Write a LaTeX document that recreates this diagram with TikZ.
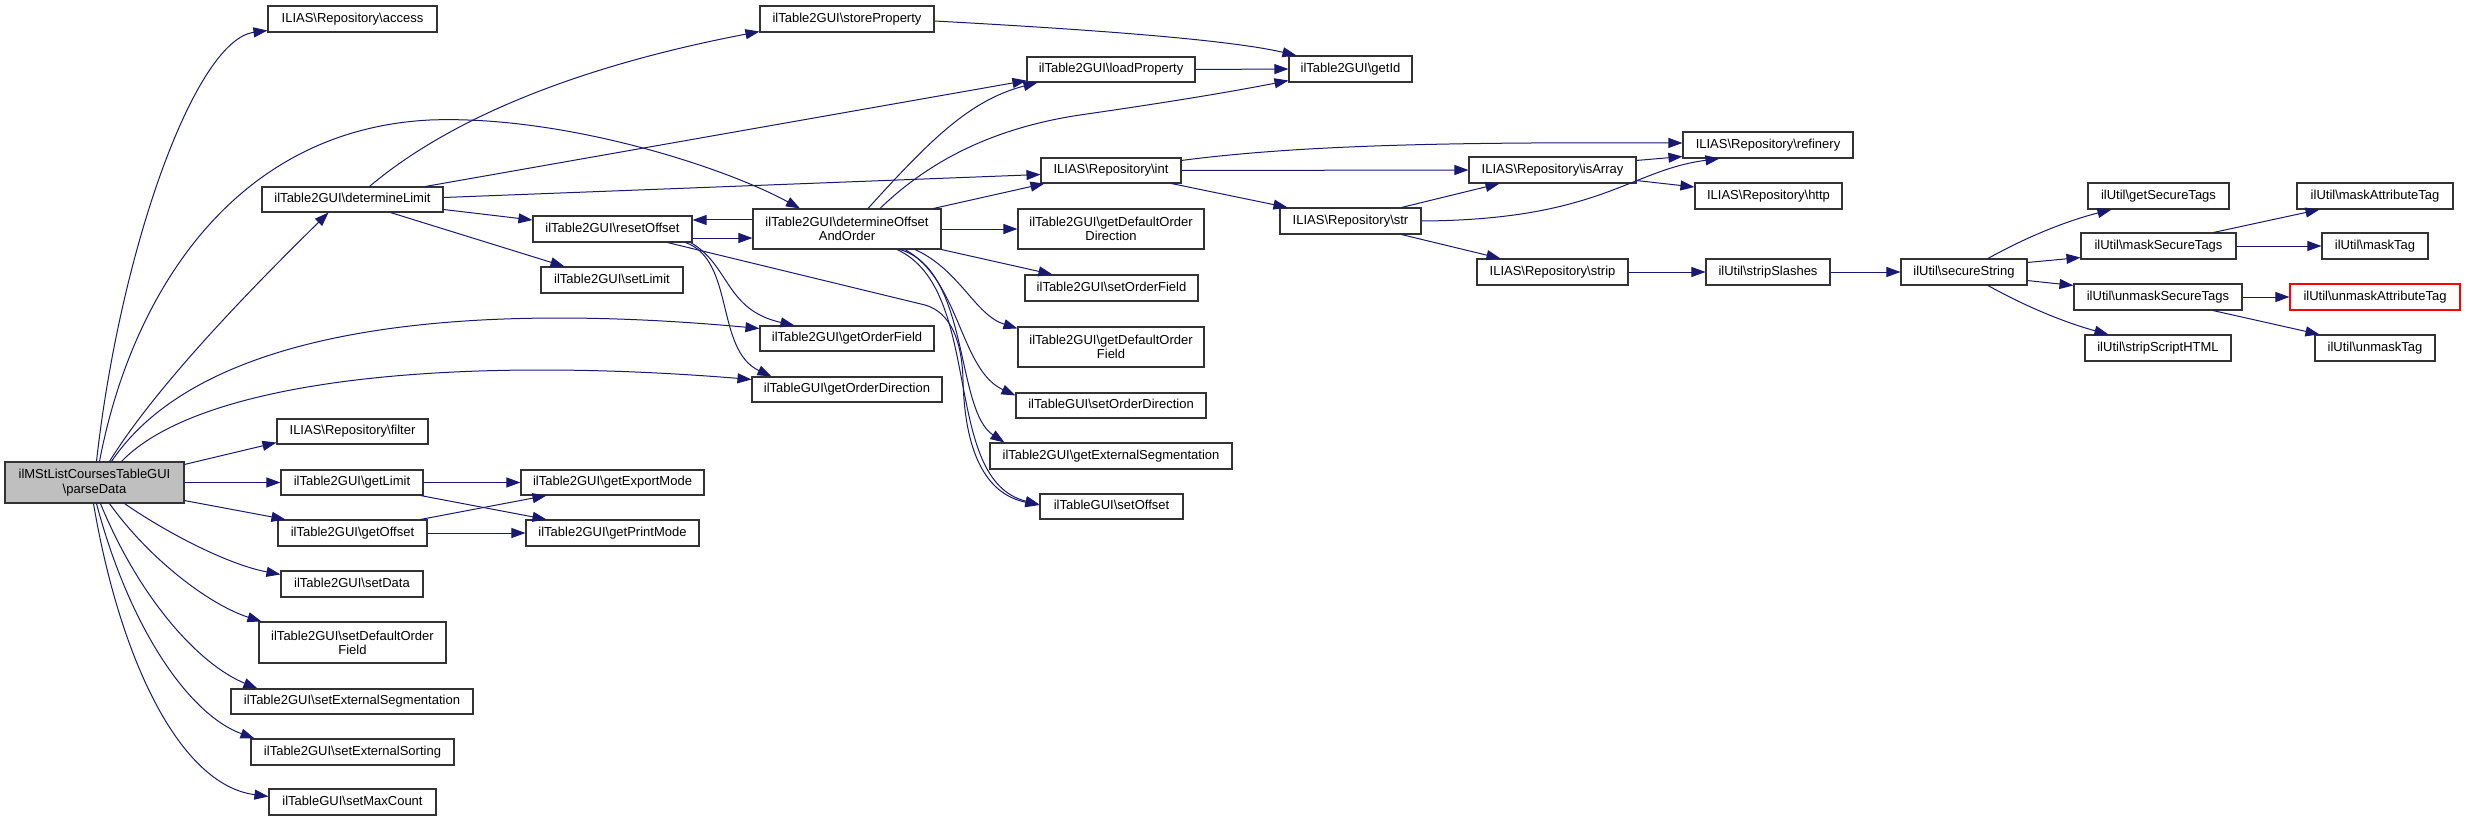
\documentclass[tikz,border=0pt]{standalone}
\usepackage{fontspec}
\setmainfont{Liberation Sans}
\usetikzlibrary{arrows.meta}
\definecolor{edgec}{HTML}{191970}
\definecolor{boxc}{HTML}{333333}
\definecolor{fillc}{HTML}{BFBFBF}
\definecolor{redc}{HTML}{FF0000}
\newcommand\gnode[7][]{\node[gbox,#1,minimum width={(#5-#3)*1pt},minimum height={(#6-#4)*1pt}] (#2) at ({(#3+#5)/2},{(#4+#6)/2}) {#7};}
\newcommand\bs{\textbackslash}
\begin{document}
\begin{tikzpicture}[x=1pt,y=-1pt,
 gbox/.style={draw=boxc,line width=1.1pt,inner sep=0pt,font=\fontsize{13}{14.3}\selectfont,fill=white},
 one/.style={text height=9.4pt,text depth=2.8pt},
 two/.style={align=center},
 gedge/.style={draw=edgec,line width=1pt,-{Triangle[length=14pt,width=10pt]}}]
\useasboundingbox[fill=white] (0,0) rectangle (2465,821);
% nodes
\gnode[fill=fillc,two]{parseData}{5}{462}{184}{503}{ilMStListCoursesTableGUI\\\bs parseData}
\gnode[one]{access}{268}{6}{437}{32}{ILIAS\bs Repository\bs access}
\gnode[one]{detLimit}{262}{187}{443}{212}{ilTable2GUI\bs determineLimit}
\gnode[one]{filter}{277}{419}{428}{444}{ILIAS\bs Repository\bs filter}
\gnode[one]{getLimit}{281}{470}{423}{495}{ilTable2GUI\bs getLimit}
\gnode[one]{getOffset}{278}{520}{427}{546}{ilTable2GUI\bs getOffset}
\gnode[one]{setData}{281}{571}{423}{597}{ilTable2GUI\bs setData}
\gnode[two]{setDOF}{259}{622}{446}{663}{ilTable2GUI\bs setDefaultOrder\\Field}
\gnode[one]{setExtSeg}{231}{689}{473}{714}{ilTable2GUI\bs setExternalSegmentation}
\gnode[one]{setExtSort}{251}{739}{454}{765}{ilTable2GUI\bs setExternalSorting}
\gnode[one]{setMaxCount}{269}{789}{436}{815}{ilTableGUI\bs setMaxCount}
\gnode[one]{resetOffset}{533}{216}{692}{242}{ilTable2GUI\bs resetOffset}
\gnode[one]{setLimit}{541}{267}{683}{293}{ilTable2GUI\bs setLimit}
\gnode[one]{getExportMode}{521}{470}{704}{495}{ilTable2GUI\bs getExportMode}
\gnode[one]{getPrintMode}{526}{520}{699}{546}{ilTable2GUI\bs getPrintMode}
\gnode[one]{storeProperty}{760}{6}{934}{32}{ilTable2GUI\bs storeProperty}
\gnode[two]{dOAO}{753}{209}{941}{249}{ilTable2GUI\bs determineOffset\\AndOrder}
\gnode[one]{getOrderField}{760}{326}{934}{351}{ilTable2GUI\bs getOrderField}
\gnode[one]{getOrderDir}{752}{377}{942}{402}{ilTableGUI\bs getOrderDirection}
\gnode[one]{loadProperty}{1027}{57}{1195}{82}{ilTable2GUI\bs loadProperty}
\gnode[one]{getId}{1289}{56}{1412}{82}{ilTable2GUI\bs getId}
\gnode[one]{int}{1041}{158}{1181}{183}{ILIAS\bs Repository\bs int}
\gnode[two]{getDOD}{1018}{209}{1204}{249}{ilTable2GUI\bs getDefaultOrder\\Direction}
\gnode[one]{setOrderField}{1025}{275}{1198}{301}{ilTable2GUI\bs setOrderField}
\gnode[two]{getDOF}{1018}{327}{1204}{367}{ilTable2GUI\bs getDefaultOrder\\Field}
\gnode[one]{setOrderDir}{1016}{393}{1206}{418}{ilTableGUI\bs setOrderDirection}
\gnode[one]{getExtSeg}{990}{443}{1232}{469}{ilTable2GUI\bs getExternalSegmentation}
\gnode[one]{setOffset}{1040}{494}{1183}{519}{ilTableGUI\bs setOffset}
\gnode[one]{str}{1280}{208}{1421}{234}{ILIAS\bs Repository\bs str}
\gnode[one]{isArray}{1469}{157}{1636}{183}{ILIAS\bs Repository\bs isArray}
\gnode[one]{refinery}{1683}{132}{1853}{158}{ILIAS\bs Repository\bs refinery}
\gnode[one]{http}{1695}{183}{1842}{209}{ILIAS\bs Repository\bs http}
\gnode[one]{strip}{1477}{259}{1628}{285}{ILIAS\bs Repository\bs strip}
\gnode[one]{stripSlashes}{1706}{259}{1830}{285}{ilUtil\bs stripSlashes}
\gnode[one]{secureString}{1901}{259}{2027}{285}{ilUtil\bs secureString}
\gnode[one]{getSecureTags}{2088}{183}{2229}{209}{ilUtil\bs getSecureTags}
\gnode[one]{maskSecureTags}{2081}{233}{2236}{259}{ilUtil\bs maskSecureTags}
\gnode[one]{unmaskSecureTags}{2074}{284}{2242}{310}{ilUtil\bs unmaskSecureTags}
\gnode[one]{stripScriptHTML}{2085}{335}{2231}{361}{ilUtil\bs stripScriptHTML}
\gnode[one]{maskAttributeTag}{2297}{183}{2453}{209}{ilUtil\bs maskAttributeTag}
\gnode[one]{maskTag}{2322}{233}{2428}{259}{ilUtil\bs maskTag}
\gnode[one,draw=redc]{unmaskAttributeTag}{2290}{284}{2460}{310}{ilUtil\bs unmaskAttributeTag}
\gnode[one]{unmaskTag}{2315}{335}{2435}{361}{ilUtil\bs unmaskTag}
% edges from parseData
\draw[gedge] ([xshift=2pt]parseData.north) .. controls (120,250) and (195,40) .. ([yshift=2pt]access.south west);
\draw[gedge] ([xshift=15pt]parseData.north) .. controls (160,380) and (265,275) .. ([xshift=-24pt]detLimit.south);
\draw[gedge] ([xshift=5pt]parseData.north) .. controls (130,300) and (230,130) .. (430,120) .. controls (560,115) and (720,165) .. ([xshift=-47pt]dOAO.north);
\draw[gedge] ([xshift=17pt]parseData.north) .. controls (200,330) and (450,300) .. ([yshift=-3pt]getOrderField.north west);
\draw[gedge] ([xshift=27pt]parseData.north) .. controls (200,380) and (450,355) .. ([yshift=-3pt]getOrderDir.north west);
\draw[gedge] ([yshift=-3pt]parseData.north east) -- ([yshift=2pt]filter.south west);
\draw[gedge] (parseData.east) -- (getLimit.west);
\draw[gedge] ([yshift=3pt]parseData.south east) -- ([xshift=8pt]getOffset.north west);
\draw[gedge] ([xshift=30pt]parseData.south) .. controls (170,535) and (230,565) .. ([yshift=-4pt]setData.north west);
\draw[gedge] ([xshift=15pt]parseData.south) .. controls (150,560) and (210,605) .. ([xshift=3pt]setDOF.north west);
\draw[gedge] ([xshift=6pt]parseData.south) .. controls (140,600) and (200,665) .. ([xshift=27pt]setExtSeg.north west);
\draw[gedge] ([xshift=2pt]parseData.south) .. controls (130,630) and (190,715) .. ([xshift=4pt]setExtSort.north west);
\draw[gedge] ([xshift=-1pt]parseData.south) .. controls (120,660) and (180,785) .. ([yshift=-8pt]setMaxCount.north west);
% determineLimit
\draw[gedge] ([xshift=17pt]detLimit.north) .. controls (460,110) and (600,62) .. ([yshift=1pt]storeProperty.south west);
\draw[gedge] ([xshift=73pt]detLimit.north) -- ([yshift=2pt]loadProperty.south west);
\draw[gedge] ([yshift=2pt]detLimit.east) -- ([yshift=-4pt]int.west);
\draw[gedge] ([yshift=-10pt]detLimit.east) -- ([yshift=9pt]resetOffset.west);
\draw[gedge] ([xshift=38pt]detLimit.south) -- ([xshift=24pt]setLimit.north west);
% resetOffset
\draw[gedge] ([yshift=-9pt]resetOffset.east) -- ([yshift=-9pt]dOAO.west);
\draw[gedge] ([yshift=9pt]dOAO.west) -- ([yshift=9pt]resetOffset.east);
\draw[gedge] ([xshift=-2pt]resetOffset.south east) .. controls (730,265) and (725,310) .. ([xshift=35pt]getOrderField.north west);
\draw[gedge] ([xshift=-7pt]resetOffset.south east) .. controls (735,260) and (715,350) .. ([xshift=20pt]getOrderDir.north west);
\draw[gedge] ([xshift=-25pt]resetOffset.south east) -- (925,305) .. controls (950,312) and (962,340) .. (963,380) .. controls (965,460) and (990,495) .. ([yshift=1.5pt]setOffset.west);
% determineOffsetAndOrder
\draw[gedge] ([xshift=21pt]dOAO.north) .. controls (930,140) and (970,100) .. ([xshift=11pt]loadProperty.south west);
\draw[gedge] ([xshift=33pt]dOAO.north) .. controls (920,170) and (980,130) .. (1080,115) .. controls (1170,102) and (1230,92) .. ([yshift=2pt]getId.south west);
\draw[gedge] ([xshift=-8pt]dOAO.north east) -- ([xshift=4pt]int.south west);
\draw[gedge] (dOAO.east) -- (getDOD.west);
\draw[gedge] (dOAO.south east) -- ([xshift=28pt]setOrderField.north west);
\draw[gedge] ([xshift=68pt]dOAO.south) .. controls (960,270) and (975,315) .. ([yshift=-2pt]getDOF.north west);
\draw[gedge] ([xshift=58pt]dOAO.south) .. controls (960,280) and (960,370) .. ([yshift=-3pt]setOrderDir.north west);
\draw[gedge] ([xshift=53pt]dOAO.south) .. controls (970,270) and (955,410) .. ([xshift=15pt]getExtSeg.north west);
\draw[gedge] ([xshift=50pt]dOAO.south) .. controls (985,290) and (940,480) .. ([yshift=2pt]setOffset.west);
% properties
\draw[gedge] (loadProperty.east) -- (getId.west);
\draw[gedge] ([yshift=-2pt]storeProperty.east) .. controls (1100,30) and (1230,40) .. ([xshift=8pt]getId.north west);
% int, str, isArray
\draw[gedge] ([yshift=-3pt]int.north east) .. controls (1300,145) and (1450,142) .. ([yshift=2pt]refinery.west);
\draw[gedge] (int.east) -- (isArray.west);
\draw[gedge] ([xshift=-10pt]int.south east) -- ([xshift=8pt]str.north west);
\draw[gedge] ([xshift=-20pt]str.north east) -- ([xshift=31pt]isArray.south west);
\draw[gedge] (str.east) .. controls (1600,220) and (1630,170) .. ([xshift=37pt]refinery.south west);
\draw[gedge] ([xshift=-20pt]str.south east) -- ([xshift=24pt]strip.north west);
\draw[gedge] ([yshift=-4pt]isArray.north east) -- ([yshift=2pt]refinery.south west);
\draw[gedge] ([yshift=3pt]isArray.south east) -- ([yshift=9pt]http.west);
\draw[gedge] (strip.east) -- (stripSlashes.west);
\draw[gedge] (stripSlashes.east) -- (secureString.west);
% secureString
\draw[gedge] ([xshift=24pt]secureString.north) .. controls (2030,235) and (2070,220) .. ([xshift=24pt]getSecureTags.south west);
\draw[gedge] ([yshift=-4pt]secureString.north east) -- ([yshift=2pt]maskSecureTags.south west);
\draw[gedge] ([yshift=5pt]secureString.south east) -- ([yshift=-2pt]unmaskSecureTags.north west);
\draw[gedge] ([xshift=24pt]secureString.south) .. controls (2030,309) and (2070,324) .. ([xshift=24pt]stripScriptHTML.north west);
\draw[gedge] ([xshift=55pt]maskSecureTags.north) -- ([xshift=23pt]maskAttributeTag.south west);
\draw[gedge] (maskSecureTags.east) -- (maskTag.west);
\draw[gedge] (unmaskSecureTags.east) -- (unmaskAttributeTag.west);
\draw[gedge] ([xshift=55pt]unmaskSecureTags.south) -- ([xshift=5pt]unmaskTag.north west);
% getLimit / getOffset
\draw[gedge] (getLimit.east) -- (getExportMode.west);
\draw[gedge] ([xshift=-3pt]getLimit.south east) -- ([xshift=21pt]getPrintMode.north west);
\draw[gedge] ([xshift=-7pt]getOffset.north east) -- ([xshift=26pt]getExportMode.south west);
\draw[gedge] (getOffset.east) -- (getPrintMode.west);
\end{tikzpicture}
\end{document}
